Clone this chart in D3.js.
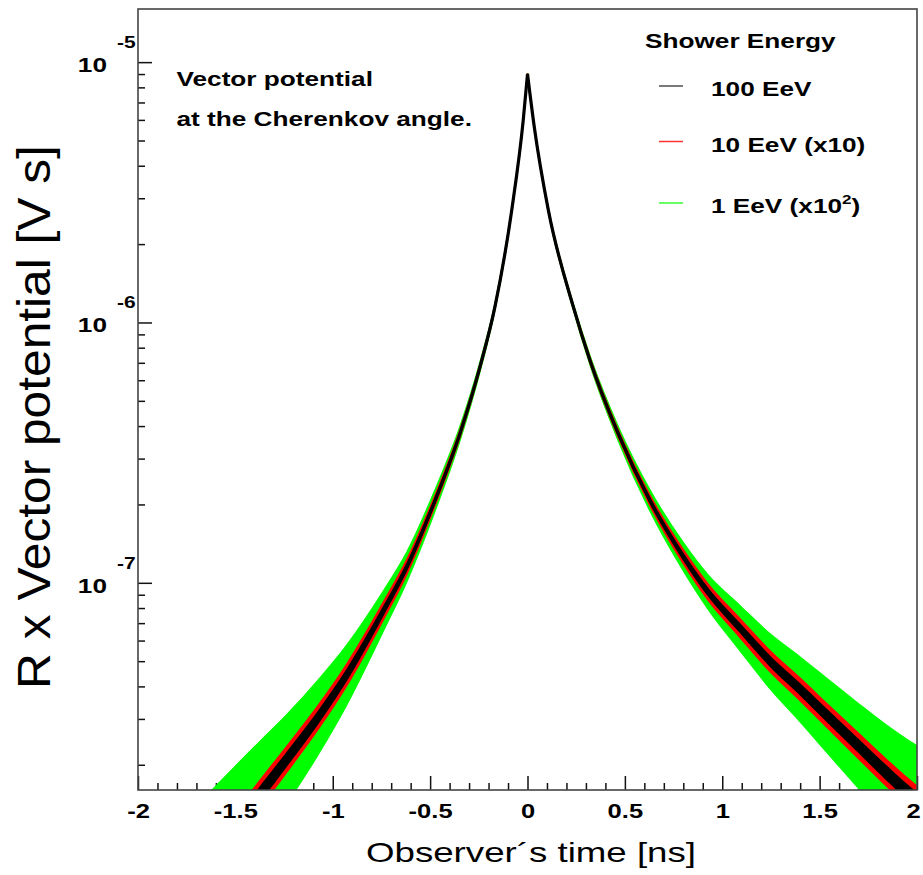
<!DOCTYPE html>
<html>
<head>
<meta charset="utf-8">
<script src="https://cdn.jsdelivr.net/npm/d3@7"></script>
<style>
  body { margin: 0; background: #fff; }
  svg text { font-family: "Liberation Sans", Arial, Helvetica, sans-serif; fill: #000; }
</style>
</head>
<body>
<svg id="chart"></svg>
<script>
// values
const timeTicks = [-2, -1.5, -1, -0.5, 0, 0.5, 1, 1.5, 2];
const decadeTicks = [1e-7, 1e-6, 1e-5];
const decadeExponents = ["-7", "-6", "-5"];

// rising side of the pulse (t < 0), ns and V s
const leftTime = [-1.70, -1.50, -1.357, -1.236, -1.074, -0.928, -0.740, -0.620, -0.475, -0.347, -0.244, -0.167, -0.081, -0.022, 0];
const leftAmp = [7.8e-9, 1.15e-8, 1.60e-8, 2.10e-8, 3.05e-8, 4.43e-8, 7.8e-8, 1.15e-7, 2.07e-7, 3.74e-7, 6.75e-7, 1.15e-6, 2.70e-6, 5.97e-6, 9.0e-6];

// falling side of the pulse (t > 0)
const rightTime = [0, 0.035, 0.107, 0.235, 0.321, 0.466, 0.629, 0.80, 0.928, 1.091, 1.245, 1.399, 1.536, 1.690, 1.844, 1.938, 2.0];
const rightAmp = [9.0e-6, 5.62e-6, 2.70e-6, 1.15e-6, 7.15e-7, 3.74e-7, 2.07e-7, 1.26e-7, 9.2e-8, 6.7e-8, 5.0e-8, 3.9e-8, 3.1e-8, 2.4e-8, 1.86e-8, 1.60e-8, 1.46e-8];

// scatter half-width (in decades) of each histogram against amplitude
const spreadLevels = [1e-8, 2e-8, 5e-8, 1e-7, 3e-7, 1e-6, 3e-6, 1e-5];
const spread100EeV = [0.030, 0.025, 0.018, 0.012, 0.006, 0.003, 0.002, 0.001];
const spread10EeV = [0.060, 0.050, 0.040, 0.030, 0.015, 0.008, 0.004, 0.002];
const spread1EeV = [0.250, 0.175, 0.105, 0.060, 0.030, 0.012, 0.006, 0.003];

const legendNames = ["100 EeV", "10 EeV (x10", "1 EeV (x10"];
const legendColors = ["#000000", "#ff0000", "#00ff00"];

// page set-up
const svgWidth = 923;
const svgHeight = 875;
const plot = { left: 138, right: 917, top: 9, bottom: 790 };
const stretch = 1.31; // the lettering in the figure is drawn wide

const svg = d3.select("#chart")
  .attr("width", svgWidth)
  .attr("height", svgHeight);

const xScale = d3.scaleLinear()
  .domain([-2, 2])
  .range([plot.left, plot.right]);

const yScale = d3.scaleLog()
  .domain([1.6e-8, 1.6e-5])
  .range([plot.bottom, plot.top]);

svg.append("clipPath")
  .attr("id", "plotClip")
  .append("rect")
  .attr("x", plot.left)
  .attr("y", plot.top)
  .attr("width", plot.right - plot.left)
  .attr("height", plot.bottom - plot.top);

// x axis: major ticks every 0.5, minor every 0.1, all pointing inwards
const minorTimes = d3.range(-20, 21).filter(i => i % 5 !== 0).map(i => i / 10);

const xMinor = svg.append("g")
  .attr("transform", "translate(0," + plot.bottom + ")")
  .call(d3.axisBottom(xScale).tickValues(minorTimes).tickSizeInner(-7).tickSizeOuter(0).tickFormat(""));
xMinor.select(".domain").remove();

const xMajor = svg.append("g")
  .attr("transform", "translate(0," + plot.bottom + ")")
  .call(d3.axisBottom(xScale).tickValues(timeTicks).tickSizeInner(-14).tickSizeOuter(0)
    .tickPadding(14).tickFormat(d => String(d)));
xMajor.select(".domain").remove();
xMajor.selectAll("text")
  .attr("font-size", 19.5)
  .attr("font-weight", "bold")
  .attr("x", d => d === 2 ? -3 : 0)
  .attr("transform", "scale(" + stretch + ",1)");

// y axis: log decades and minor ticks 2..9
const minorAmps = [];
[-8, -7, -6, -5].forEach(e => {
  for (let m = 2; m <= 9; m++) {
    const v = m * Math.pow(10, e);
    if (v > 1.6e-8 && v < 1.6e-5) minorAmps.push(v);
  }
});

const yMinor = svg.append("g")
  .attr("transform", "translate(" + plot.left + ",0)")
  .call(d3.axisLeft(yScale).tickValues(minorAmps).tickSizeInner(-7).tickSizeOuter(0).tickFormat(""));
yMinor.select(".domain").remove();

const yMajor = svg.append("g")
  .attr("transform", "translate(" + plot.left + ",0)")
  .call(d3.axisLeft(yScale).tickValues(decadeTicks).tickSizeInner(-14).tickSizeOuter(0).tickFormat(""));
yMajor.select(".domain").remove();

svg.selectAll(".tick line").attr("stroke", "#111").attr("stroke-width", 1.5);

// "10" with exponent for each decade
decadeTicks.forEach((v, i) => {
  const ty = yScale(v);
  svg.append("text")
    .attr("transform", "translate(107," + (ty + 10) + ") scale(" + stretch + ",1)")
    .attr("text-anchor", "end")
    .attr("font-size", 20)
    .attr("font-weight", "bold")
    .text("10");
  svg.append("text")
    .attr("transform", "translate(117," + (ty - 14) + ") scale(" + stretch + ",1)")
    .attr("font-size", 16)
    .attr("font-weight", "bold")
    .text(decadeExponents[i]);
});

// the three histograms, widest (1 EeV) at the back
const leftPoints = leftTime.map((t, i) => ({ t: t, a: leftAmp[i] }));
const rightPoints = rightTime.map((t, i) => ({ t: t, a: rightAmp[i] }));

function spreadScale(values) {
  return d3.scaleLog().domain(spreadLevels).range(values).clamp(true);
}

function bandArea(values) {
  const s = spreadScale(values);
  return d3.area()
    .x(d => xScale(d.t))
    .y0(d => yScale(d.a / Math.pow(10, s(d.a))))
    .y1(d => yScale(d.a * Math.pow(10, s(d.a))))
    .curve(d3.curveMonotoneX);
}

const curves = svg.append("g").attr("clip-path", "url(#plotClip)");

const bands = [
  { spread: spread1EeV, color: legendColors[2] },
  { spread: spread10EeV, color: legendColors[1] },
  { spread: spread100EeV, color: legendColors[0] }
];

bands.forEach(b => {
  const area = bandArea(b.spread);
  [leftPoints, rightPoints].forEach(side => {
    curves.append("path")
      .attr("d", area(side))
      .attr("fill", b.color)
      .attr("stroke", b.color)
      .attr("stroke-width", 1.5);
  });
});

const centreLine = d3.line()
  .x(d => xScale(d.t))
  .y(d => yScale(d.a))
  .curve(d3.curveMonotoneX);

[leftPoints, rightPoints].forEach(side => {
  curves.append("path")
    .attr("d", centreLine(side))
    .attr("fill", "none")
    .attr("stroke", "#000")
    .attr("stroke-width", 3.2);
});

// frame
svg.append("rect")
  .attr("x", plot.left)
  .attr("y", plot.top)
  .attr("width", plot.right - plot.left)
  .attr("height", plot.bottom - plot.top)
  .attr("fill", "none")
  .attr("stroke", "#444")
  .attr("stroke-width", 1.6);

// annotation
["Vector potential", "at the Cherenkov angle."].forEach((line, i) => {
  svg.append("text")
    .attr("transform", "translate(176.5," + (86 + i * 40) + ") scale(" + stretch + ",1)")
    .attr("font-size", 20)
    .attr("font-weight", "bold")
    .text(line);
});

// legend
svg.append("text")
  .attr("transform", "translate(645,47.5) scale(" + stretch + ",1)")
  .attr("font-size", 20)
  .attr("font-weight", "bold")
  .text("Shower Energy");

const legendY = [86, 141.5, 203];
legendNames.forEach((name, i) => {
  svg.append("line")
    .attr("x1", 659).attr("x2", 683)
    .attr("y1", legendY[i]).attr("y2", legendY[i])
    .attr("stroke", legendColors[i])
    .attr("stroke-opacity", i === 0 ? 0.7 : 0.8)
    .attr("stroke-width", 1.5);
  const label = svg.append("text")
    .attr("transform", "translate(711," + (legendY[i] + 10) + ") scale(" + stretch + ",1)")
    .attr("font-size", 20)
    .attr("font-weight", "bold")
    .text(name);
  if (i === 1) label.append("tspan").text(")");
  if (i === 2) {
    label.append("tspan").attr("font-size", 13).attr("dy", -9).text("2");
    label.append("tspan").attr("font-size", 20).attr("dy", 9).text(")");
  }
});

// axis titles
svg.append("text")
  .attr("transform", "translate(531,862) scale(" + stretch + ",1)")
  .attr("text-anchor", "middle")
  .attr("font-size", 28)
  .text("Observer\u00b4s time [ns]");

svg.append("text")
  .attr("transform", "translate(50,417) rotate(-90) scale(1.08,1)")
  .attr("text-anchor", "middle")
  .attr("font-size", 46)
  .text("R x Vector potential [V s]");
</script>
</body>
</html>
